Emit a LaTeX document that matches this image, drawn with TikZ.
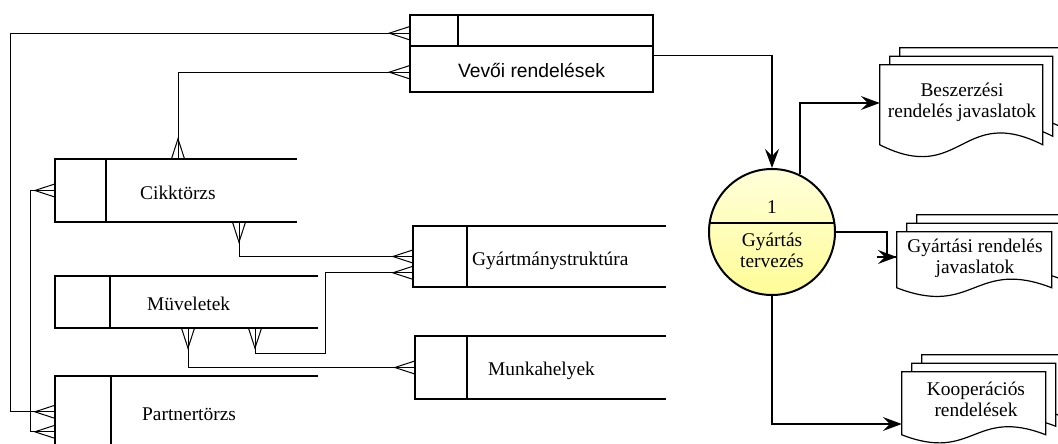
\documentclass[tikz,border=0pt]{standalone}
\usepackage{fontspec}
\setmainfont{Liberation Serif}
\newfontfamily\vevofont{Liberation Sans}
\usetikzlibrary{arrows.meta,positioning}
\definecolor{pYelTop}{RGB}{255,255,218}
\definecolor{pYelBot}{RGB}{255,252,150}

% crow's foot for the data relations
\pgfdeclarearrow{
  name = Crow,
  parameters = {\the\pgfarrowlength,\the\pgfarrowwidth},
  setup code = {
    \pgfarrowssettipend{0pt}
    \pgfarrowssetlineend{0pt}
    \pgfarrowssetbackend{-\pgfarrowlength}
    \pgfarrowssavethe\pgfarrowlength
    \pgfarrowssavethe\pgfarrowwidth
  },
  drawing code = {
    \pgfsetdash{}{0pt}
    \pgfpathmoveto{\pgfqpoint{0pt}{.5\pgfarrowwidth}}
    \pgfpathlineto{\pgfqpoint{-\pgfarrowlength}{0pt}}
    \pgfpathlineto{\pgfqpoint{0pt}{-.5\pgfarrowwidth}}
    \pgfusepathqstroke
  },
  defaults = {length=20pt, width=13pt}
}

\tikzset{
    store/.style={rectangle, inner sep=0pt},
    storeline/.style={line width=2pt},
    lbl/.style={inner sep=0pt, anchor=base west, font=\fontsize{19.4}{21}\selectfont},
    rel/.style={line width=1pt, {Crow}-{Crow}},
    flow/.style={line width=1.2pt, -{Stealth[length=19pt,width=14pt,inset=7pt]}},
    proc/.style={circle, draw, line width=2pt, minimum size=126pt, inner sep=0pt,
        top color=pYelTop, bottom color=pYelBot},
    docframe/.style={rectangle, inner sep=0pt},
    docline/.style={line width=1.2pt, fill=white},
    doctext/.style={inner sep=0pt, align=center, font=\fontsize{19.4}{21}\selectfont}
}

\newcommand{\docstack}[4]{%
  \foreach \k in {2,1,0}
    \draw[docline] ([xshift=\k*10pt, yshift=\k*8.5pt]#1.north west) -- ++(#2,0) -- ++(0,#3)
        .. controls +(-#2/2,-#4) and +(#2/2,#4) .. ++(-#2,0) -- cycle;
}

\begin{document}
\begin{tikzpicture}[x=1pt,y=-1pt]
\useasboundingbox (0,0) rectangle (1058,444);
\begin{scope}
\clip (0,0) rectangle (1058,444);

% data stores
\node[store, minimum width=242pt, minimum height=63pt] (cikk) at (176,190.5) {};
\node[store, minimum width=263pt, minimum height=52pt] (muv) at (186.5,302) {};
\node[store, minimum width=263pt, minimum height=90pt] (partner) at (186.5,421) {};
\node[store, minimum width=253pt, minimum height=61pt] (gyart) at (539.5,256.5) {};
\node[store, minimum width=251pt, minimum height=63pt] (munk) at (540.5,367.5) {};
\foreach \n/\d in {cikk/51, muv/55, partner/56, gyart/54, munk/52} {
    \draw[storeline] (\n.north east) -- (\n.north west) -- (\n.south west) -- (\n.south east);
    \draw[storeline] ([xshift=\d pt]\n.north west) -- ([xshift=\d pt]\n.south west);
}
\node[lbl] (cikkT) at (140,199) {Cikktörzs};
\node[lbl] (muvT) at (147,310) {Müveletek};
\node[lbl] (partnerT) at (142,420) {Partnertörzs};
\node[lbl] (gyartT) at (472,265) {Gyártmánystruktúra};
\node[lbl] (munkT) at (488,375) {Munkahelyek};

% orders store
\node[draw, line width=1.6pt, inner sep=0pt, minimum width=243pt, minimum height=77pt] (vevo) at (531.5,53.5) {};
\draw[line width=1.6pt] ([yshift=-32pt]vevo.north west) -- ([yshift=-32pt]vevo.north east);
\draw[line width=1.6pt] ([xshift=49pt]vevo.north west) -- ([xshift=49pt,yshift=-32pt]vevo.north west);
\node[inner sep=0pt, font=\vevofont\fontsize{19.3}{21}\selectfont] (vevoT) at (531.5,70) {Vevői rendelések};

% relations
\draw[rel] ([yshift=-19pt]vevo.north west) -- ++(-399,0) |- ([yshift=-36pt]partner.north west);
\draw[rel] ([yshift=-58pt]vevo.north west) -| ([xshift=2pt]cikk.north);
\draw[rel] (cikk.west) -- ++(-24,0) |- ([yshift=-56pt]partner.north west);
\draw[rel] ([xshift=63pt]cikk.south) |- (gyart.west);
\draw[rel] ([xshift=68.5pt]muv.south) -- ++(0,25) -- ++(70,0) |- ([yshift=-47pt]gyart.north west);
\draw[rel] ([xshift=1.5pt]muv.south) |- (munk.west);

% process
\node[proc, path picture={\draw[line width=1.2pt] ([yshift=9pt]path picture bounding box.west) -- ([yshift=9pt]path picture bounding box.east);}] (gyt) at (772,232) {};
\node[inner sep=0pt, anchor=base, font=\fontsize{19.4}{21}\selectfont] (gytN) at (772,213) {1};
\node[doctext] (gytT) at (772,250) {Gyártás\\tervezés};

% documents
\node[docframe, minimum width=163pt, minimum height=80pt] (besz) at (961.5,105) {};
\docstack{besz}{163}{80}{41}
\node[doctext] (beszT) at (962,102.5) {Beszerzési\\rendelés javaslatok};

\node[docframe, minimum width=155pt, minimum height=56pt] (gyd) at (974.5,260) {};
\docstack{gyd}{155}{56}{30}
\node[doctext] (gydT) at (975,258) {Gyártási rendelés\\javaslatok};

\node[docframe, minimum width=144pt, minimum height=63pt] (koop) at (974,403.5) {};
\docstack{koop}{144}{63}{28}
\node[doctext] (koopT) at (976,399.5) {Kooperációs\\rendelések};

% flows
\draw[flow] ([yshift=-2pt]vevo.east) -| (gyt.north);
\draw[flow] (gyt.64) |- ([yshift=2pt]besz.west);
\draw[line width=1.2pt] (gyt.east) -- ++(51,0) |- ([yshift=3pt]gyd.west);
\draw[flow] ([xshift=-20pt,yshift=3pt]gyd.west) -- ([yshift=3pt]gyd.west);
\draw[flow] (gyt.south) |- ([yshift=-20.5pt]koop.west);
\end{scope}
\end{tikzpicture}
\end{document}
